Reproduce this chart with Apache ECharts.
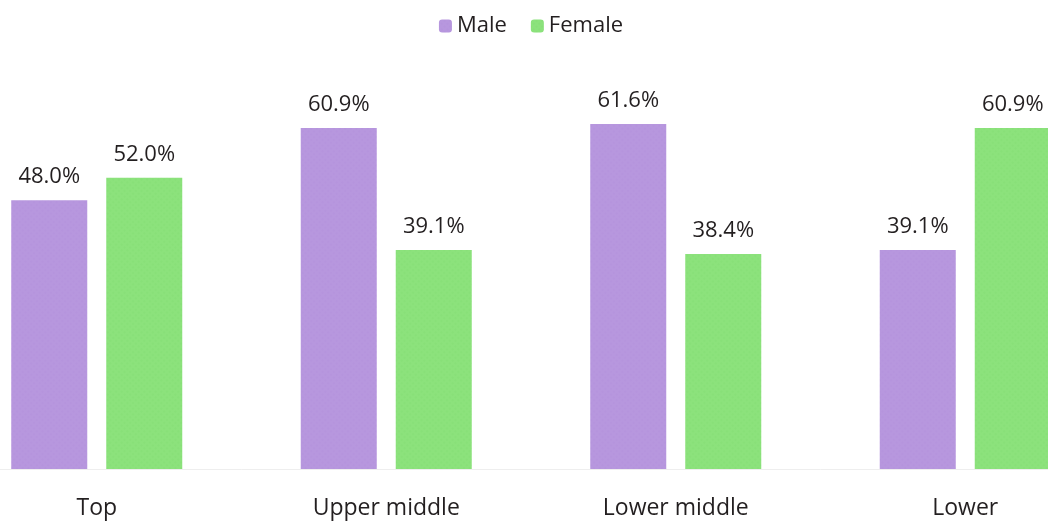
<!DOCTYPE html>
<html><head><meta charset="utf-8">
<script src="https://cdn.jsdelivr.net/npm/echarts@6/dist/echarts.min.js"></script>
<style>html,body{margin:0;padding:0;background:#fff;overflow:hidden;width:1048px;height:523px}#c{width:1158px;height:523px;margin-left:-48px}</style>
</head><body><div id="c"></div>
<script>
const categories = ['Top', 'Upper middle', 'Lower middle', 'Lower'];
const maleValues = [48.0, 60.9, 61.6, 39.1];
const femaleValues = [52.0, 39.1, 38.4, 60.9];
const seriesNames = ['Male', 'Female'];

const FONT = '"Open Sans", Lato, sans-serif';
const chart = echarts.init(document.getElementById('c'), null, {renderer: 'canvas'});
const decalStyle = (c) => ({symbol: 'rect', symbolSize: 0.5, color: c, dashArrayX: [2, 2], dashArrayY: [2, 2], rotation: Math.PI / 4});
chart.setOption({
  animation: false,
  legend: {
    top: 10, left: 'center', itemWidth: 13, itemHeight: 13, itemGap: 24,
    textStyle: {fontFamily: FONT, fontSize: 22, color: '#231f20'},
    data: seriesNames
  },
  grid: {left: 0, right: 0, top: 77, bottom: 54, containLabel: false},
  xAxis: {
    type: 'category', data: categories,
    axisLine: {show: true, lineStyle: {color: '#eeeeee'}},
    axisTick: {show: false},
    axisLabel: {fontFamily: FONT, fontSize: 23, color: '#231f20', margin: 28}
  },
  yAxis: {type: 'value', min: 0, max: 70, show: false, splitLine: {show: false}},
  series: [
    {name: seriesNames[0], type: 'bar', data: maleValues, barWidth: 76, barGap: '25%',
     itemStyle: {color: '#b797de', decal: decalStyle('rgba(160,120,210,0.35)')},
     label: {show: true, position: 'top', distance: 12, formatter: p => p.value.toFixed(1) + '%',
       fontFamily: FONT, fontSize: 22, color: '#231f20'}},
    {name: seriesNames[1], type: 'bar', data: femaleValues, barWidth: 76,
     itemStyle: {color: '#8ce27c', decal: decalStyle('rgba(100,200,90,0.35)')},
     label: {show: true, position: 'top', distance: 12, formatter: p => p.value.toFixed(1) + '%',
       fontFamily: FONT, fontSize: 22, color: '#231f20'}}
  ]
});
</script></body></html>
